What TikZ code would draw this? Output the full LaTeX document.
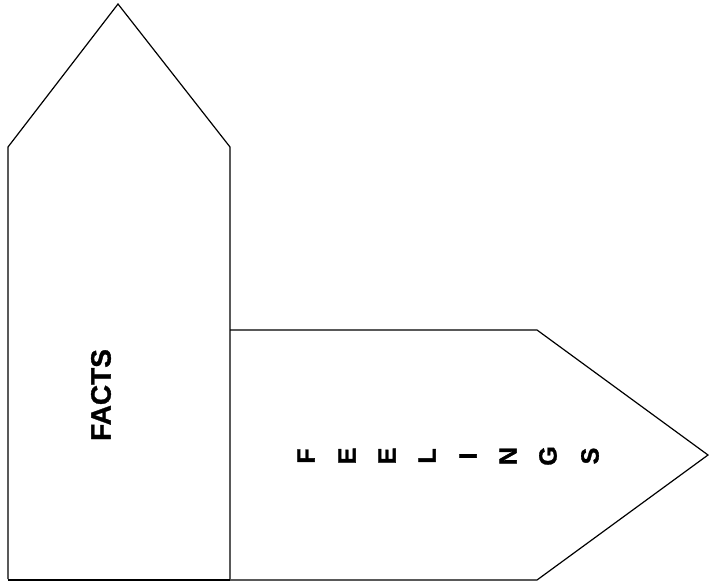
\documentclass[tikz,border=0pt]{standalone}
\usepackage{fontspec}
\setmainfont{Liberation Sans}
\newfontfamily\heavysans[FakeBold=1.2]{Liberation Sans Bold}
\tikzset{
  shape line/.style={draw=black, line width=1.2pt, line join=miter},
  label text/.style={font=\heavysans\fontsize{28}{30}\selectfont, rotate=90, inner sep=0pt},
  feelletter/.style={font=\heavysans\fontsize{25}{28}\selectfont, rotate=90, inner sep=0pt, anchor=center},
}
\begin{document}
\begin{tikzpicture}[x=1pt,y=-1pt]
\useasboundingbox[fill=white] (0,0) rectangle (709,585);
% vertical arrow (FACTS)
\draw[shape line] (8,579) -- (8,147) -- (118,4) -- (230,147) -- (230,579);
% horizontal arrow (FEELINGS)
\draw[shape line] (230,330) -- (537,330) -- (708,455) -- (537,580) -- (230,580);
% bottom line
\draw[shape line] (8,580) -- (230,580);
\node[label text] (facts) at (101,395) {FACTS};
\node[feelletter] (feel1) at (306,456) {F};
\node[feelletter] (feel2) at (347,456) {E};
\node[feelletter] (feel3) at (387,456) {E};
\node[feelletter] (feel4) at (427,456) {L};
\node[feelletter] (feel5) at (468,456) {I};
\node[feelletter] (feel6) at (508,456) {N};
\node[feelletter] (feel7) at (548,456) {G};
\node[feelletter] (feel8) at (590,456) {S};
\end{tikzpicture}
\end{document}
